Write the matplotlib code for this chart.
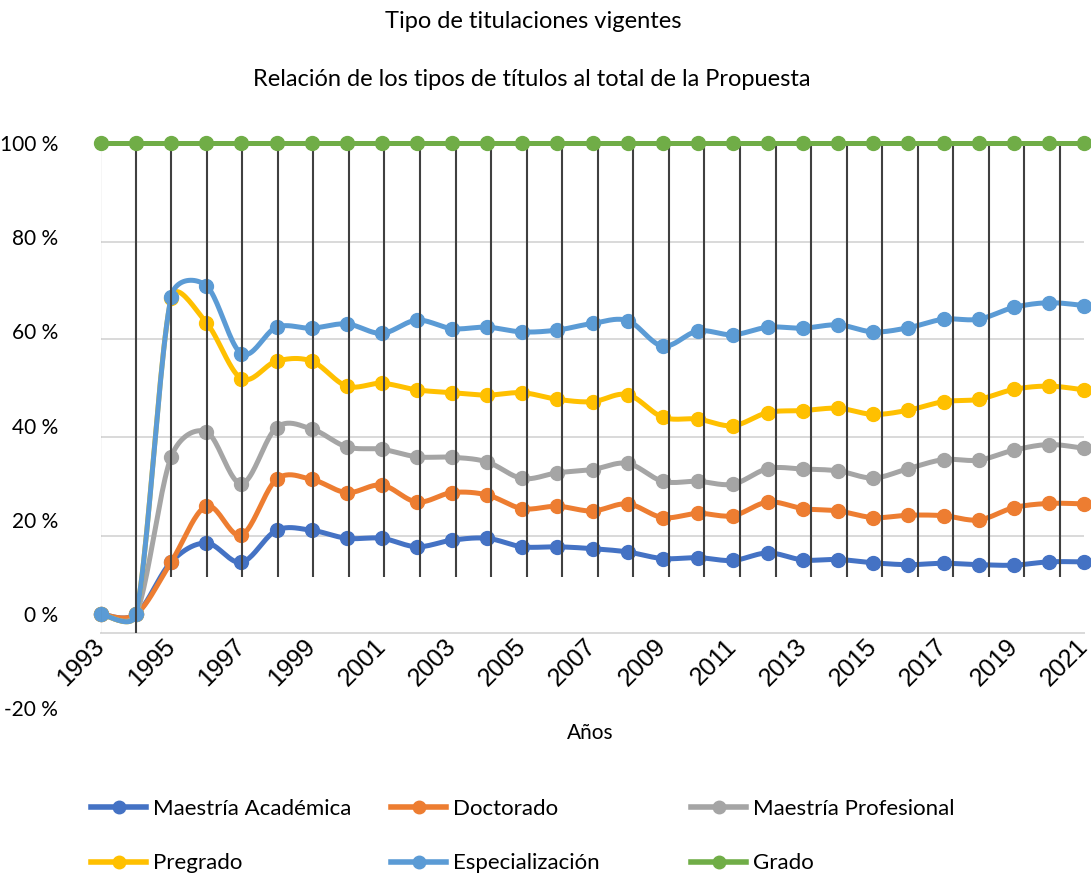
import numpy as np
import matplotlib
matplotlib.use("Agg")
import matplotlib.pyplot as plt

plt.rcParams.update({"font.family": ["Lato", "DejaVu Sans"], "font.size": 15})

W, H = 1091, 873

YEARS = list(range(1993, 2022))
MAESTRIA_ACAD = [0, 0, 11.1, 15.1, 11.0, 17.8, 17.8, 16.1, 16.1, 14.3, 15.7, 16.1, 14.3, 14.3,
                 13.9, 13.2, 11.8, 12.0, 11.4, 13.0, 11.5, 11.6, 10.9, 10.5, 10.8, 10.5, 10.4, 11.1, 11.1]
DOCTORADO = [0, 0, 11.1, 22.9, 16.8, 28.6, 28.6, 25.8, 27.4, 23.8, 25.8, 25.3, 22.4, 22.9,
             21.9, 23.4, 20.5, 21.4, 20.9, 23.8, 22.4, 21.9, 20.5, 21.0, 20.9, 20.0, 22.6, 23.5, 23.4]
MAESTRIA_PROF = [0, 0, 33.4, 38.7, 27.7, 39.6, 39.3, 35.5, 35.0, 33.4, 33.3, 32.3, 28.8, 30.0,
                 30.7, 32.0, 28.2, 28.2, 27.6, 30.9, 30.8, 30.4, 28.9, 30.9, 32.8, 32.7, 34.8, 36.0, 35.2]
PREGRADO = [0, 0, 67.0, 61.9, 50.0, 53.7, 53.7, 48.4, 49.0, 47.6, 47.0, 46.5, 47.0, 45.6,
            45.1, 46.6, 41.8, 41.4, 40.0, 42.8, 43.2, 43.7, 42.4, 43.3, 45.1, 45.6, 47.7, 48.4, 47.6]
ESPECIALIZ = [0, 0, 67.4, 69.7, 55.3, 60.9, 60.7, 61.6, 59.6, 62.4, 60.6, 60.9, 59.9, 60.3,
              61.7, 62.3, 56.9, 60.1, 59.3, 60.9, 60.7, 61.4, 59.9, 60.8, 62.6, 62.6, 65.1, 66.1, 65.5]
GRADO = [100] * 29

SERIES = [
    ("Maestría Académica", MAESTRIA_ACAD, "#4472C4"),
    ("Doctorado", DOCTORADO, "#ED7D31"),
    ("Maestría Profesional", MAESTRIA_PROF, "#A5A5A5"),
    ("Pregrado", PREGRADO, "#FFC000"),
    ("Especialización", ESPECIALIZ, "#5B9BD5"),
    ("Grado", GRADO, "#70AD47"),
]

# drop lines (Excel places them on a slightly different category grid)
DROP_YEARS = list(range(1993, 2021))
DROP_BOTTOM = [-4, -4] + [7.9] * 26

YTICKS = [-20, 0, 20, 40, 60, 80, 100]
GRID_LEVELS = [79.0, 58.4, 37.6, 16.6]
YMIN = -4.0

PX_X = 983 / 28      # pixels per year
PX_Y = 4.71          # pixels per percent


def smooth(x, y, n=24, k=0.5):
    """Bezier smoothing close to Excel's 'smoothed line' (control arms clamped)."""
    P = np.column_stack([np.asarray(x, float) * PX_X, np.asarray(y, float) * PX_Y])
    P = np.vstack([P[0], P, P[-1]])
    t = np.linspace(0, 1, n)[:, None]
    out = []
    for i in range(1, len(P) - 2):
        p0, p1, p2, p3 = P[i - 1], P[i], P[i + 1], P[i + 2]
        seglen = np.hypot(*(p2 - p1))
        d1 = (p2 - p0) / 6
        d2 = (p3 - p1) / 6
        for d in (d1, d2):
            L = np.hypot(*d)
            if L > k * seglen and L > 0:
                d *= k * seglen / L
        c1, c2 = p1 + d1, p2 - d2
        seg = ((1 - t) ** 3) * p1 + 3 * ((1 - t) ** 2) * t * c1 + 3 * (1 - t) * t ** 2 * c2 + t ** 3 * p2
        out.append(seg if i == 1 else seg[1:])
    out = np.vstack(out)
    return out[:, 0] / PX_X, out[:, 1] / PX_Y


fig = plt.figure(figsize=(W / 100, H / 100), dpi=100)

ax = fig.add_axes([101 / W, 1 - 633 / H, (1084 - 101) / W, (633 - 143) / H])
ax_drop = fig.add_axes([100 / W, 1 - 633 / H, 960 / W, (633 - 143) / H])
ax_drop.set_xlim(1993, 2020); ax_drop.set_ylim(YMIN, 100); ax_drop.set_axis_off()
ax_lab = fig.add_axes([101 / W, 1 - 708 / H, (1084 - 101) / W, (708 - 143) / H])
ax_lab.set_ylim(-20, 100); ax_lab.set_xlim(0, 1)
ax_lab.patch.set_alpha(0)
for s in ax_lab.spines.values():
    s.set_visible(False)
ax_lab.set_xticks([])
ax_lab.set_yticks(YTICKS)
ax_lab.set_yticklabels([f"{v} %" for v in YTICKS])
ax_lab.tick_params(axis="y", length=0, pad=31, labelsize=15)
ax.set_zorder(2); ax.patch.set_alpha(0)

ax.set_xlim(1993, 2021); ax.set_ylim(YMIN, 100)
for s in ["top", "right", "left"]:
    ax.spines[s].set_visible(False)
ax.spines["bottom"].set_color("#d9d9d9"); ax.spines["bottom"].set_linewidth(1.4)
for g in GRID_LEVELS:
    ax.axhline(g, color="#d9d9d9", lw=1.4, zorder=0)
ax.set_yticks([])

for k, (name, vals, col) in enumerate(SERIES):
    z = 3 + k if name != "Grado" else 20
    xs, ys = smooth(YEARS, vals)
    ax.plot(xs, ys, color=col, lw=3.6, solid_capstyle="round", zorder=z, clip_on=False)
    ax.plot(YEARS, vals, "o", color=col, ms=10, zorder=z, clip_on=False)

ax.vlines(DROP_YEARS, DROP_BOTTOM, 100, colors="#404040", lw=1.5, zorder=15,
          transform=ax_drop.transData)

ax.set_xticks(range(1993, 2022, 2))
ax.tick_params(axis="x", length=0, pad=7, labelsize=18)
for lbl in ax.get_xticklabels():
    lbl.set_family(["Liberation Sans", "DejaVu Sans"])
    lbl.set_rotation(45); lbl.set_ha("right"); lbl.set_va("center")
    lbl.set_rotation_mode("anchor")

fig.text(533 / W, 1 - 22 / H, "Tipo de titulaciones vigentes", ha="center", va="center", fontsize=17)
fig.text(532 / W, 1 - 79 / H, "Relación de los tipos de títulos al total de la Propuesta",
         ha="center", va="center", fontsize=17)
fig.text(590 / W, 1 - 733 / H, "Años", ha="center", va="center", fontsize=15)

# legend: three columns, two rows
col_x = [91, 391, 691]
for c in range(3):
    handles, labels = [], []
    for r in range(2):
        name, vals, col = SERIES[r * 3 + c]
        h, = ax.plot([], [], "-o", color=col, lw=4, ms=9)
        handles.append(h); labels.append(name)
    fig.legend(handles, labels, loc="center left",
               bbox_to_anchor=(col_x[c] / W, 1 - 836 / H),
               frameon=False, handlelength=2.48, handletextpad=0.32, borderpad=0,
               labelspacing=1.56, fontsize=16, borderaxespad=0)

fig.savefig("out.png", dpi=100)
